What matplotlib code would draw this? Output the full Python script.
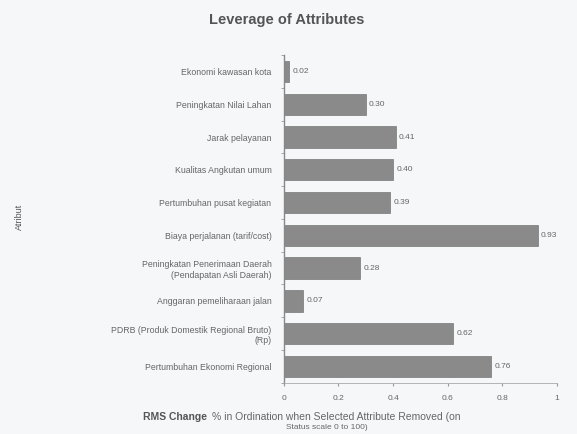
import matplotlib
matplotlib.use('Agg')
import matplotlib.pyplot as plt
import numpy as np

plt.rcParams['font.family'] = ['Liberation Sans', 'DejaVu Sans']

# attributes, top to bottom as in the chart
attributes = [
    "Ekonomi kawasan kota",
    "Peningkatan Nilai Lahan",
    "Jarak pelayanan",
    "Kualitas Angkutan umum",
    "Pertumbuhan pusat kegiatan",
    "Biaya perjalanan (tarif/cost)",
    "Peningkatan Penerimaan Daerah\n(Pendapatan Asli Daerah)",
    "Anggaran pemeliharaan jalan",
    "PDRB (Produk Domestik Regional Bruto)\n(Rp)",
    "Pertumbuhan Ekonomi Regional",
]
rms_change = [0.02, 0.30, 0.41, 0.40, 0.39, 0.93, 0.28, 0.07, 0.62, 0.76]
x_ticks = [0, 0.2, 0.4, 0.6, 0.8, 1]

bg = "#f5f7f9"
txt = "#666666"

fig = plt.figure(figsize=(5.77, 4.34), dpi=100, facecolor=bg)
ax = fig.add_axes([0.492, 0.118, 0.473, 0.755])
ax.set_facecolor(bg)

y = np.arange(len(attributes))
ax.barh(y, rms_change, height=0.65, color="#8a8a8a", edgecolor="#777777", linewidth=0.5)

for i, v in enumerate(rms_change):
    ax.text(v + 0.012, i, "%.2f" % v, va="center", ha="left", fontsize=6, color=txt)

ax.set_yticks(y)
ax.set_yticklabels(attributes, fontsize=6.3, color=txt)
ax.tick_params(axis="y", length=0, pad=9)
# small ticks between categories
ax.set_yticks(np.arange(-0.5, len(attributes), 1), minor=True)
ax.tick_params(axis="y", which="minor", length=2, color="#999999")

ax.set_xlim(0, 1)
ax.set_ylim(len(attributes) - 0.5, -0.5)
ax.set_xticks(x_ticks)
ax.set_xticklabels(["0", "0.2", "0.4", "0.6", "0.8", "1"], fontsize=6, color=txt)
ax.tick_params(axis="x", length=2, color="#999999", pad=7)

for s in ["top", "right"]:
    ax.spines[s].set_visible(False)
ax.spines["left"].set_color("#888888")
ax.spines["bottom"].set_color("#aaaaaa")
ax.spines["left"].set_linewidth(1.0)
ax.spines["bottom"].set_linewidth(0.6)

fig.text(0.497, 0.953, "Leverage of Attributes", ha="center", va="center",
         fontsize=10.5, fontweight="bold", color="#555555")
fig.text(0.033, 0.5, "Atribut", rotation=90, ha="center", va="center",
         fontsize=6.5, color="#555555")

# x label: bold part followed by the rest on the same line
t1 = fig.text(0.248, 0.04, "RMS Change", ha="left", va="center", fontsize=7.5,
              fontweight="bold", color="#555555")
fig.canvas.draw()
bb = t1.get_window_extent()
x2 = (bb.x1 + 5) / fig.bbox.width
fig.text(x2, 0.04, "% in Ordination when Selected Attribute Removed (on",
         ha="left", va="center", fontsize=7.5, color=txt)
fig.text(0.567, 0.016, "Status scale 0 to 100)", ha="center", va="center",
         fontsize=6, color=txt)

fig.savefig("out.png", dpi=100, facecolor=bg)
